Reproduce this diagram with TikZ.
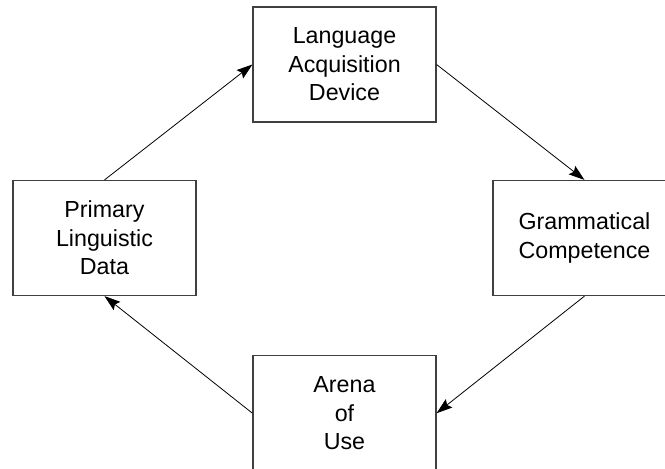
\documentclass[tikz,border=0pt]{standalone}
\usepackage{fontspec}
\setmainfont{Liberation Sans}
\usetikzlibrary{arrows.meta}
\tikzset{%
    box/.style={rectangle, draw=black!75, line width=0.9pt, minimum width=4.842cm,
        minimum height=3.043cm, align=center, inner sep=0pt,
        font=\fontsize{17.5}{21.5}\selectfont},
    flow/.style={-{Stealth[length=12pt, width=8pt, inset=2pt]}, line width=0.6pt}
}
\begin{document}
\begin{tikzpicture}
  \clip (0cm, 0cm) rectangle (17.595cm, 12.383cm);
  \node (lad) [box] at (9.115cm, 10.676cm) {Language\\Acquisition\\Device};
  \node (gc) [box] at (15.465cm, 6.085cm) {Grammatical\\Competence};
  \node (aou) [box] at (9.115cm, 1.45cm) {Arena\\of\\Use};
  \node (pld) [box] at (2.765cm, 6.085cm) {Primary\\Linguistic\\Data};
  \draw (pld.north) edge [flow] (lad.west);
  \draw (lad.east) edge [flow] (gc.north);
  \draw (gc.south) edge [flow] (aou.east);
  \draw (aou.west) edge [flow] (pld.south);
\end{tikzpicture}
\end{document}
